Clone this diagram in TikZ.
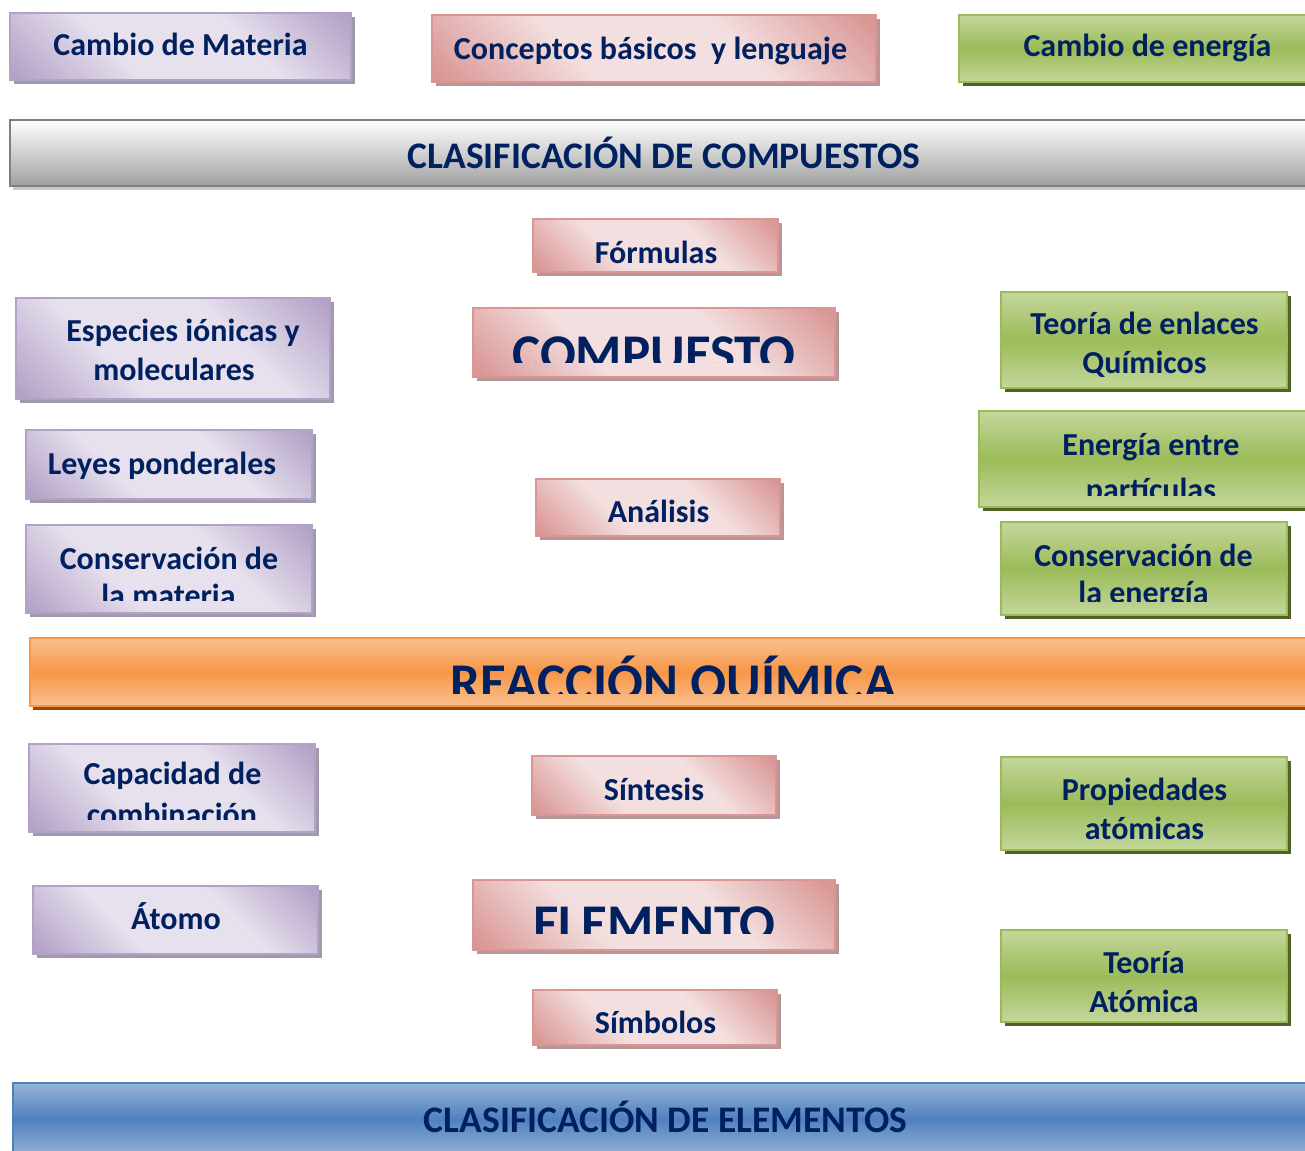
\documentclass[tikz,border=0pt]{standalone}
\usepackage{fontspec}
\setmainfont{Carlito}
\usetikzlibrary{shadows}

\definecolor{txtnavy}{RGB}{0,32,96}
\definecolor{lilacL}{RGB}{231,225,238}
\definecolor{lilacD}{RGB}{179,162,199}
\definecolor{lilacS}{RGB}{160,154,172}
\definecolor{roseL}{RGB}{243,223,223}
\definecolor{roseD}{RGB}{217,150,148}
\definecolor{roseS}{RGB}{182,150,150}
\definecolor{oliveL}{RGB}{196,215,155}
\definecolor{oliveD}{RGB}{155,187,89}
\definecolor{oliveS}{RGB}{79,98,40}
\definecolor{greyB}{RGB}{127,127,127}
\definecolor{greyD}{RGB}{160,160,160}
\definecolor{greyS}{RGB}{200,200,200}
\definecolor{orangeL}{RGB}{250,192,144}
\definecolor{orangeD}{RGB}{247,150,70}
\definecolor{orangeS}{RGB}{152,72,7}
\definecolor{blueL}{RGB}{149,179,215}
\definecolor{blueD}{RGB}{79,129,189}

\pgfdeclarehorizontalshading{lilacdiag}{100bp}{color(0bp)=(lilacD); color(16bp)=(lilacD); color(38bp)=(lilacL); color(62bp)=(lilacL); color(84bp)=(lilacD); color(100bp)=(lilacD)}
\pgfdeclarehorizontalshading{rosediag}{100bp}{color(0bp)=(roseD); color(16bp)=(roseD); color(38bp)=(roseL); color(62bp)=(roseL); color(84bp)=(roseD); color(100bp)=(roseD)}

\begin{document}
\begin{tikzpicture}[x=1pt,y=1pt,
  box/.style={inner sep=0pt, outer sep=0pt, line width=2pt},
  lilacbox/.style={box, draw=lilacD, shading=lilacdiag, shading angle=45,
    drop shadow={fill=lilacS, opacity=1, shadow xshift=4pt, shadow yshift=-4pt}},
  rosebox/.style={box, draw=roseD, shading=rosediag, shading angle=45,
    drop shadow={fill=roseS, opacity=1, shadow xshift=4pt, shadow yshift=-4pt}},
  olivebox/.style={box, draw=oliveD, top color=oliveL, bottom color=oliveL, middle color=oliveD,
    drop shadow={fill=oliveS, opacity=1, shadow xshift=4pt, shadow yshift=-4pt}},
  greybar/.style={box, line width=2.5pt, draw=greyB, top color=white, bottom color=greyD,
    drop shadow={fill=greyS, opacity=1, shadow xshift=3pt, shadow yshift=-4pt}},
  orangebar/.style={box, draw=orangeD, top color=orangeL, bottom color=orangeL, middle color=orangeD,
    drop shadow={fill=orangeS, opacity=1, shadow xshift=3pt, shadow yshift=-4pt}},
  bluebar/.style={box, draw=blueD, top color=blueL, bottom color=blueL, middle color=blueD},
  boxtext/.style={font=\fontsize{32}{39}\selectfont\bfseries, text=txtnavy, inner sep=0pt, anchor=base, yshift=-1.5pt},
  bartext/.style={boxtext, font=\fontsize{37.5}{45}\selectfont\bfseries},
  bigtext/.style={boxtext, font=\fontsize{53}{64}\selectfont\bfseries}]
\useasboundingbox (0,0) rectangle (1305,1150);

%Shape: Rectangle -- top row
\node [lilacbox, minimum width=341, minimum height=67] (cambioMat) at (180.5,1103.5) {};
\node [rosebox, minimum width=444, minimum height=67] (conceptos) at (654,1101.5) {};
\node [olivebox, minimum width=361, minimum height=67] (cambioEne) at (1139.5,1101.5) {};
% Text Node
\node [boxtext] (cambioMatTxt) at (180.5,1096) {Cambio de Materia};
\node [boxtext] (conceptosTxt) at (650.5,1092) {Conceptos básicos\ \ y lenguaje};
\node [boxtext] (cambioEneTxt) at (1147.5,1095) {Cambio de energía};

%Shape: Rectangle -- grey bar
\node [greybar, minimum width=1310, minimum height=66] (clasifComp) at (665,997) {};
% Text Node
\node [bartext] (clasifCompTxt) at (664,983) {CLASIFICACIÓN DE COMPUESTOS};

%Shape: Rectangle -- compuesto column
\node [rosebox, minimum width=245, minimum height=53] (formulas) at (655.5,904.5) {};
\node [rosebox, minimum width=362, minimum height=69] (compuesto) at (654,807.5) {};
\node [rosebox, minimum width=244, minimum height=57] (analisis) at (658,642.5) {};
% Text Node
\node [boxtext] (formulasTxt) at (656,888) {Fórmulas};
\begin{scope}
\clip (473,787) rectangle (835,842);
\node [bigtext] (compuestoTxt) at (654,780) {COMPUESTO};
\end{scope}
\node [boxtext] (analisisTxt) at (658.5,629) {Análisis};

%Shape: Rectangle -- left column, upper
\node [lilacbox, minimum width=314, minimum height=101] (especies) at (173,801.5) {};
\node [lilacbox, minimum width=286, minimum height=69] (leyes) at (169,685.5) {};
\node [lilacbox, minimum width=286, minimum height=88] (consMat) at (169,581) {};
% Text Node
\node [boxtext] (especiesA) at (183,810) {Especies iónicas y};
\node [boxtext] (especiesB) at (174,771) {moleculares};
\node [boxtext] (leyesTxt) at (162,677) {Leyes ponderales};
\begin{scope}
\clip (26,549) rectangle (312,625);
\node [boxtext] (consMatA) at (169,582) {Conservación de};
\node [boxtext] (consMatB) at (168.5,545) {la materia};
\end{scope}

%Shape: Rectangle -- right column, upper
\node [olivebox, minimum width=286, minimum height=96] (teoriaEnl) at (1144,810) {};
\node [olivebox, minimum width=341, minimum height=96] (energiaPart) at (1149.5,691) {};
\node [olivebox, minimum width=286, minimum height=93] (consEne) at (1144,581.5) {};
% Text Node
\node [boxtext] (teoriaEnlA) at (1144.5,817) {Teoría de enlaces};
\node [boxtext] (teoriaEnlB) at (1144.5,778) {Químicos};
\begin{scope}
\clip (979,654) rectangle (1320,739);
\node [boxtext] (energiaPartA) at (1151,696) {Energía entre};
\node [boxtext] (energiaPartB) at (1151,651) {partículas};
\end{scope}
\begin{scope}
\clip (1001,548) rectangle (1287,628);
\node [boxtext] (consEneA) at (1143.5,585) {Conservación de};
\node [boxtext] (consEneB) at (1143.5,548) {la energía};
\end{scope}

%Shape: Rectangle -- orange bar
\node [orangebar, minimum width=1290, minimum height=68] (reaccion) at (675,478) {};
% Text Node
\begin{scope}
\clip (30,456) rectangle (1320,512);
\node [bigtext] (reaccionTxt) at (673.5,451) {REACCIÓN QUÍMICA};
\end{scope}

%Shape: Rectangle -- lower rows
\node [lilacbox, minimum width=286, minimum height=88] (capacidad) at (172,362) {};
\node [lilacbox, minimum width=285, minimum height=68] (atomo) at (175.5,230) {};
\node [rosebox, minimum width=244, minimum height=59] (sintesis) at (654,364.5) {};
\node [rosebox, minimum width=362, minimum height=70] (elemento) at (654,235) {};
\node [rosebox, minimum width=244, minimum height=55] (simbolos) at (655,132.5) {};
\node [olivebox, minimum width=286, minimum height=93] (propiedades) at (1144,346.5) {};
\node [olivebox, minimum width=286, minimum height=92] (teoriaAt) at (1144,174) {};
% Text Node
\begin{scope}
\clip (29,330) rectangle (315,406);
\node [boxtext] (capacidadA) at (172.5,367) {Capacidad de};
\node [boxtext] (capacidadB) at (172,326) {combinación};
\end{scope}
\node [boxtext] (atomoTxt) at (176,222) {Átomo};
\node [boxtext] (sintesisTxt) at (654,351) {Síntesis};
\begin{scope}
\clip (473,216) rectangle (835,270);
\node [bigtext] (elementoTxt) at (654,210) {ELEMENTO};
\end{scope}
\node [boxtext] (simbolosTxt) at (655.5,118) {Símbolos};
\node [boxtext] (propiedadesA) at (1144.5,351) {Propiedades};
\node [boxtext] (propiedadesB) at (1144.5,312) {atómicas};
\node [boxtext] (teoriaAtA) at (1144,178) {Teoría};
\node [boxtext] (teoriaAtB) at (1144,139) {Atómica};

%Shape: Rectangle -- blue bar
\node [bluebar, minimum width=1307, minimum height=72] (clasifElem) at (666.5,31) {};
% Text Node
\node [bartext] (clasifElemTxt) at (665.5,19) {CLASIFICACIÓN DE ELEMENTOS};

\end{tikzpicture}
\end{document}
